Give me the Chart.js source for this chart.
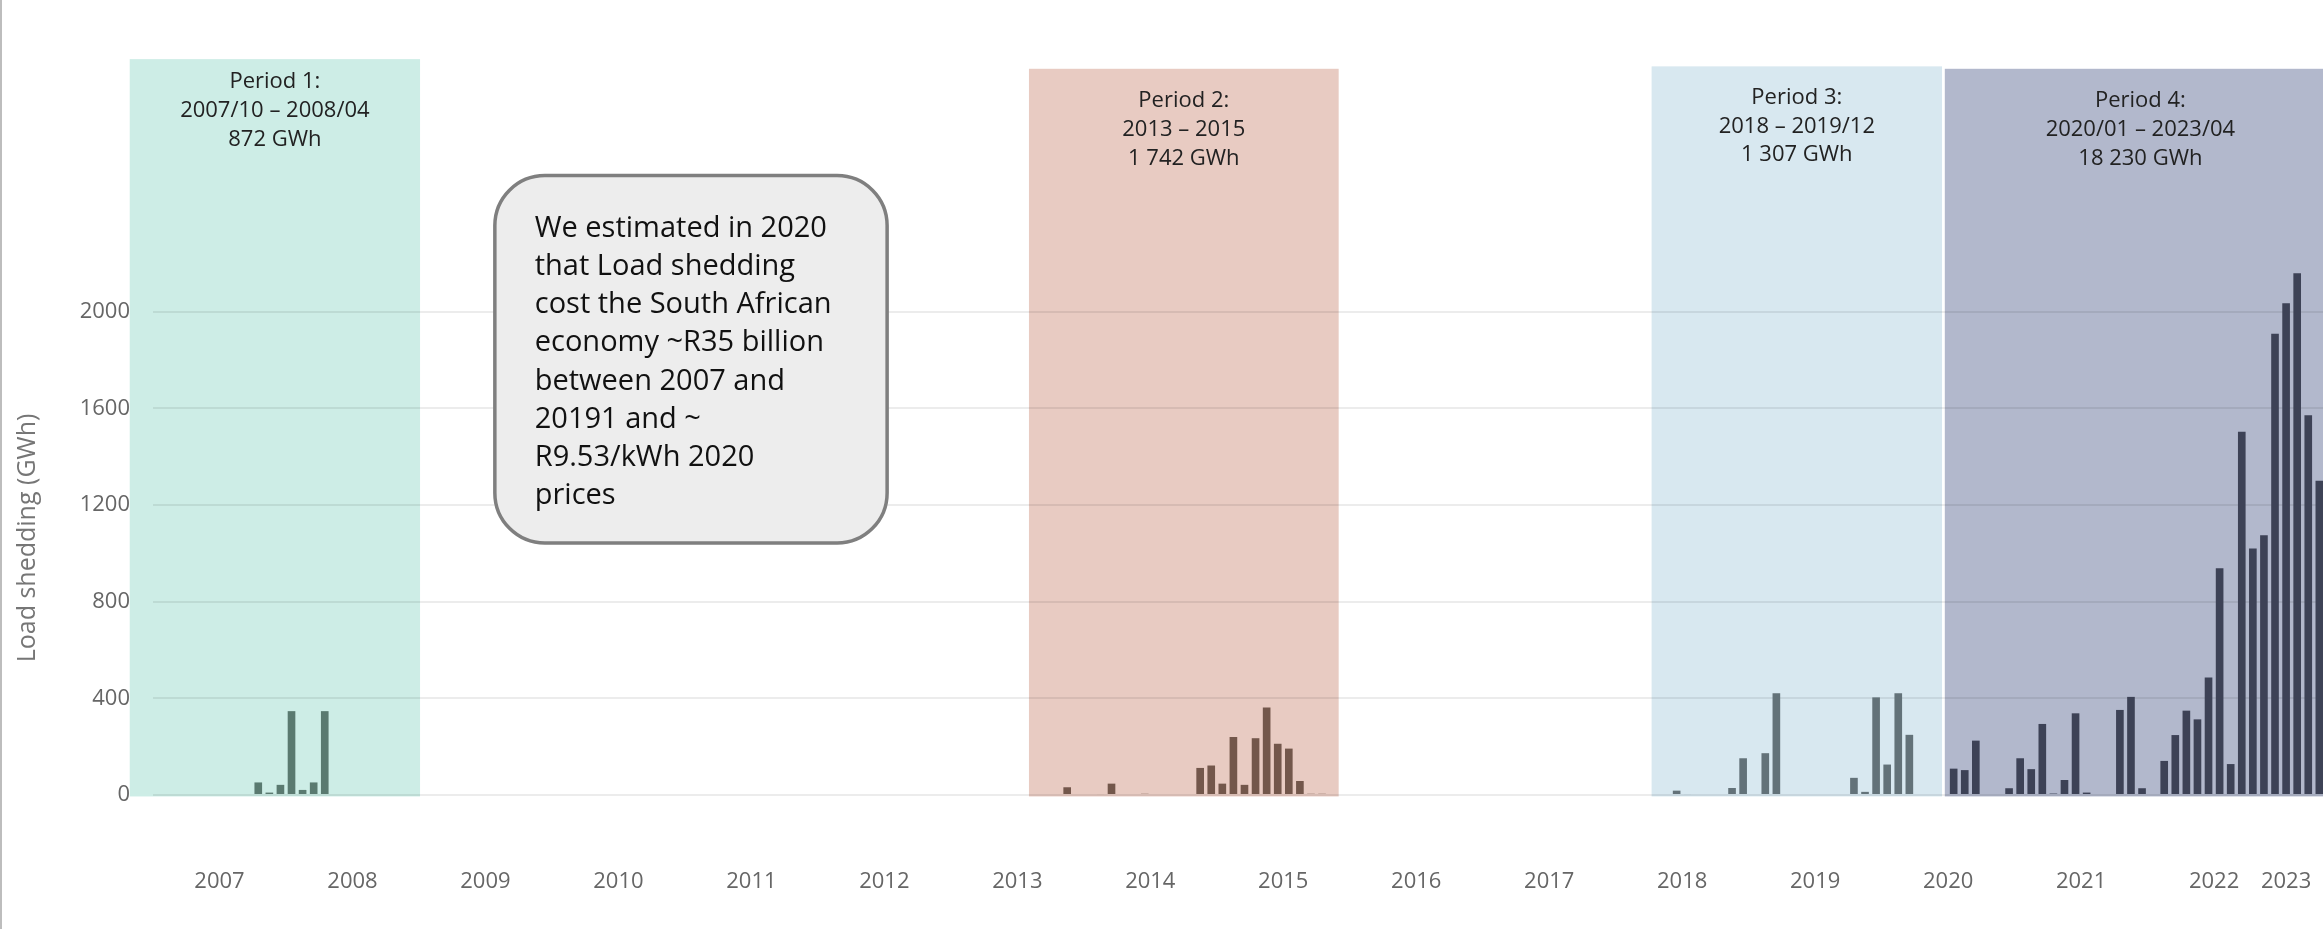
<!DOCTYPE html>
<html>
<head>
<meta charset="utf-8">
<script src="https://cdn.jsdelivr.net/npm/chart.js@4.4.1/dist/chart.umd.min.js"></script>
<style>
  html, body { margin: 0; padding: 0; background: #ffffff; overflow: hidden; }
  #wrap { position: relative; width: 2323px; height: 929px; }
</style>
</head>
<body>
<div id="wrap"><canvas id="c" width="2323" height="929"></canvas></div>
<script>
// ---------------- DATA (monthly load shedding, GWh) ----------------
const p1Months = ['2007-10','2007-11','2007-12','2008-01','2008-02','2008-03','2008-04'];
const p1Values = [52, 10, 42, 347, 21, 52, 347];

const p2Months = ['2013-11','2014-02','2014-03','2014-06','2014-11','2014-12','2015-01','2015-02',
                  '2015-03','2015-04','2015-05','2015-06','2015-07','2015-08','2015-09','2015-10'];
const p2Values = [32, 4, 47, 5, 112, 122, 47, 240, 42, 235, 362, 212, 192, 58, 5, 5];

const p3Months = ['2018-06','2018-07','2018-11','2018-12','2019-02','2019-03','2019-10','2019-11','2019-12'];
const p3Values = [18, 4, 29, 152, 173, 421, 71, 13, 404];

const p4Months = ['2020-01','2020-02','2020-03','2020-04','2020-05','2020-06','2020-07','2020-08','2020-09','2020-10','2020-11','2020-12',
                  '2021-01','2021-02','2021-03','2021-04','2021-05','2021-06','2021-07','2021-08','2021-09','2021-10','2021-11','2021-12',
                  '2022-01','2022-02','2022-03','2022-04','2022-05','2022-06','2022-07','2022-08','2022-09','2022-10','2022-11','2022-12',
                  '2023-01','2023-02','2023-03','2023-04'];
const p4Values = [126, 421, 249, 0, 0, 0, 109, 103, 225, 0, 0, 28,
                  152, 107, 294, 6, 62, 338, 10, 0, 0, 352, 406, 28,
                  0, 141, 248, 349, 313, 486, 938, 128, 1503, 1020, 1075, 1909,
                  2035, 2159, 1571, 1300];

const yearLabels = ['2007','2008','2009','2010','2011','2012','2013','2014','2015',
                    '2016','2017','2018','2019','2020','2021','2022','2023'];
const yTickValues = [0, 400, 800, 1200, 1600, 2000];

const periodTitles = ['Period 1:', 'Period 2:', 'Period 3:', 'Period 4:'];
const periodRanges = ['2007/10 \u2013 2008/04', '2013 \u2013 2015', '2018 \u2013 2019/12', '2020/01 \u2013 2023/04'];
const periodTotals = ['872 GWh', '1 742 GWh', '1 307 GWh', '18 230 GWh'];

const calloutLines = ['We estimated in 2020', 'that Load shedding', 'cost the South African',
                      'economy ~R35 billion', 'between 2007 and', '20191 and ~', 'R9.53/kWh 2020', 'prices'];
const yTitle = 'Load shedding (GWh)';

// ---------------- helpers ----------------
const BASE_YEAR = 2007;
const monthIndex = s => { const [yy, mm] = s.split('-').map(Number); return (yy - BASE_YEAR) * 12 + (mm - 1); };
const lastYear = Number(yearLabels[yearLabels.length - 1]);
const yearTickValue = label => {
  const yy = Number(label);
  return yy === lastYear ? monthIndex(label + '-01') + 0.5 : (yy - BASE_YEAR) * 12 + 6;
};

const points = [];
[[p1Months, p1Values], [p2Months, p2Values], [p3Months, p3Values], [p4Months, p4Values]].forEach(([ms, vs]) => {
  ms.forEach((m, i) => points.push({ x: monthIndex(m) + 0.5, y: vs[i] }));
});

// ---------------- layout / style ----------------
const FONT = "'Open Sans', 'Noto Sans', sans-serif";
const LAYOUT = {
  xMin: 0, xMax: 195.83, yMin: 0, yMax: 3000,
  yAxisWidth: 153, xAxisHeight: 134, padTop: 70,
  boxes: [
    { from: -2.1,   to: 24.1,   top: 3045, bottom: -6, fill: '#CDEDE6', bar: '#5A7A70', textOffset: 23 },
    { from: 79.05,  to: 107.0,  top: 3005, bottom: -6, fill: '#E8CBC2', bar: '#73574B', textOffset: 32 },
    { from: 135.24, to: 161.45, top: 3015, bottom: -6, fill: '#D8E8F0', bar: '#637279', textOffset: 31 },
    { from: 161.7,  to: 197.0,  top: 3005, bottom: -6, fill: '#B2B8CC', bar: '#3D4256', textOffset: 32 }
  ],
  periodLineGap: 28.9,
  callout: { from: 30.85, to: 66.25, top: 2563, bottom: 1043, textX: 34.45, firstLine: 53, lineGap: 38.2, radius: 50 },
  yTitleX: 28, yTitleY: 538
};

const decor = {
  id: 'decor',
  beforeDraw(chart) {
    const { ctx, scales: { x, y } } = chart;
    ctx.save();
    LAYOUT.boxes.forEach(b => {
      const x0 = x.getPixelForValue(b.from), x1 = x.getPixelForValue(b.to);
      const y0 = y.getPixelForValue(b.top), y1 = y.getPixelForValue(b.bottom);
      ctx.fillStyle = b.fill;
      ctx.fillRect(x0, y0, x1 - x0, y1 - y0);
    });
    ctx.restore();
  },
  afterDraw(chart) {
    const { ctx, scales: { x, y } } = chart;
    ctx.save();
    // period labels
    ctx.fillStyle = '#222222';
    ctx.font = '22px ' + FONT;
    ctx.textAlign = 'center';
    ctx.textBaseline = 'middle';
    LAYOUT.boxes.forEach((b, i) => {
      const cx = (x.getPixelForValue(b.from) + x.getPixelForValue(b.to)) / 2;
      const ty = y.getPixelForValue(b.top) + b.textOffset;
      [periodTitles[i], periodRanges[i], periodTotals[i]].forEach((t, k) => {
        ctx.fillText(t, cx, ty + k * LAYOUT.periodLineGap);
      });
    });
    // callout
    const c = LAYOUT.callout;
    const cx0 = x.getPixelForValue(c.from), cx1 = x.getPixelForValue(c.to);
    const cy0 = y.getPixelForValue(c.top), cy1 = y.getPixelForValue(c.bottom);
    ctx.beginPath();
    ctx.roundRect(cx0, cy0, cx1 - cx0, cy1 - cy0, c.radius);
    ctx.fillStyle = '#EDEDED';
    ctx.fill();
    ctx.lineWidth = 3.5;
    ctx.strokeStyle = '#7F7F7F';
    ctx.stroke();
    ctx.fillStyle = '#111111';
    ctx.font = '29px ' + FONT;
    ctx.textAlign = 'left';
    ctx.textBaseline = 'middle';
    const tx = x.getPixelForValue(c.textX);
    calloutLines.forEach((t, k) => ctx.fillText(t, tx, cy0 + c.firstLine + k * c.lineGap));
    // y axis title
    ctx.translate(LAYOUT.yTitleX, LAYOUT.yTitleY);
    ctx.rotate(-Math.PI / 2);
    ctx.fillStyle = '#767676';
    ctx.font = '25px ' + FONT;
    ctx.textAlign = 'center';
    ctx.textBaseline = 'middle';
    ctx.fillText(yTitle, 0, 0);
    ctx.restore();
    // left frame line
    ctx.save();
    ctx.fillStyle = '#BDBDBD';
    ctx.fillRect(0, 0, 2, chart.height);
    ctx.restore();
  }
};

new Chart(document.getElementById('c'), {
  type: 'bar',
  data: {
    datasets: [{
      data: points,
      backgroundColor: ctx => {
        const xv = ctx.raw ? ctx.raw.x : null;
        const b = LAYOUT.boxes.find(bb => xv >= bb.from && xv <= bb.to);
        return b ? b.bar : '#555555';
      },
      borderWidth: 0,
      barPercentage: 0.69,
      categoryPercentage: 1.0
    }]
  },
  options: {
    responsive: false,
    animation: false,
    events: [],
    layout: { padding: { top: LAYOUT.padTop, right: 0, bottom: 0, left: 0 } },
    plugins: { legend: { display: false }, tooltip: { enabled: false }, title: { display: false } },
    scales: {
      x: {
        type: 'linear',
        offset: false,
        min: LAYOUT.xMin, max: LAYOUT.xMax,
        grid: { display: false, drawTicks: false, offset: false },
        border: { display: false },
        afterBuildTicks: scale => { scale.ticks = yearLabels.map(l => ({ value: yearTickValue(l) })); },
        afterFit: scale => {
          scale.height = LAYOUT.xAxisHeight;
          scale.paddingLeft = 0; scale.paddingRight = 0;
          scale.paddingTop = 0; scale.paddingBottom = 0;
        },
        ticks: {
          autoSkip: false, maxRotation: 0, minRotation: 0,
          padding: 74,
          color: '#666666',
          font: { family: FONT, size: 22 },
          callback: (v, i) => yearLabels[i]
        }
      },
      y: {
        min: LAYOUT.yMin, max: LAYOUT.yMax,
        grid: { color: 'rgba(0,0,0,0.075)', lineWidth: 2, drawTicks: false },
        border: { display: false },
        afterBuildTicks: scale => { scale.ticks = yTickValues.map(v => ({ value: v })); },
        afterFit: scale => {
          scale.width = LAYOUT.yAxisWidth;
          scale.paddingLeft = 0; scale.paddingRight = 0;
          scale.paddingTop = 0; scale.paddingBottom = 0;
        },
        ticks: {
          padding: 23,
          color: '#666666',
          font: { family: FONT, size: 22 },
          callback: v => String(v)
        }
      }
    }
  },
  plugins: [decor]
});
</script>
</body>
</html>
